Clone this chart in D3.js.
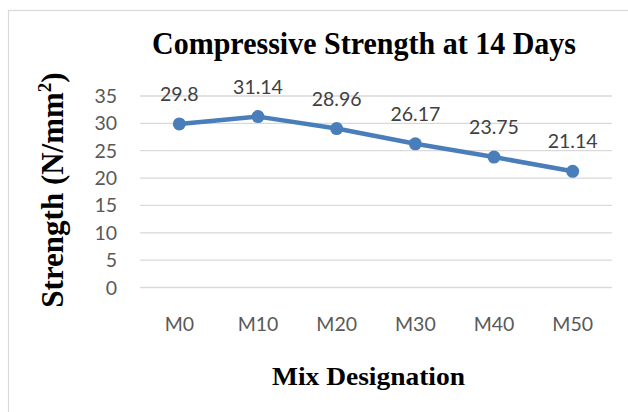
<!DOCTYPE html>
<html>
<head>
<meta charset="utf-8">
<script src="https://cdn.jsdelivr.net/npm/d3@7"></script>
<style>
  html, body { margin: 0; padding: 0; background: #fff; }
  svg { display: block; }
</style>
</head>
<body>
<svg id="chart" width="628" height="412"></svg>
<script>
// Compressive strength at 14 days for each mix
const mixes = ["M0", "M10", "M20", "M30", "M40", "M50"];
const strength = [29.8, 31.14, 28.96, 26.17, 23.75, 21.14];
const yTicks = [0, 5, 10, 15, 20, 25, 30, 35];

const svg = d3.select("#chart");
const W = 628, H = 412;
const plot = { left: 140, right: 612, top: 95.5, bottom: 287 };
const sans = "Lato, 'Open Sans', sans-serif";
const serif = "'Liberation Serif', 'Times New Roman', serif";

// Chart frame
svg.append("rect")
  .attr("x", 8.5).attr("y", 10.5)
  .attr("width", W + 20).attr("height", H + 20)
  .attr("fill", "#fff").attr("stroke", "#d9d9d9").attr("stroke-width", 1.2);

const x = d3.scaleBand().domain(mixes).range([plot.left, plot.right]);
const y = d3.scaleLinear().domain([0, 35]).range([plot.bottom, plot.top]);

// Horizontal gridlines + y tick labels
const yAxis = d3.axisLeft(y).tickValues(yTicks).tickSize(-(plot.right - plot.left)).tickPadding(23);
const gy = svg.append("g").attr("transform", `translate(${plot.left},0)`).call(yAxis);
gy.select(".domain").remove();
gy.selectAll(".tick line").attr("stroke", "#d9d9d9").attr("stroke-width", 1.3);
gy.selectAll(".tick text")
  .attr("fill", "#595959")
  .attr("dy", "0.36em")
  .style("font-family", sans)
  .style("font-size", "19.5px");

// Category labels
const xAxis = d3.axisBottom(x).tickSize(0);
const gx = svg.append("g").attr("transform", `translate(0,${plot.bottom})`).call(xAxis);
gx.select(".domain").remove();
gx.selectAll(".tick text")
  .attr("y", 43.7).attr("dy", null)
  .attr("fill", "#595959")
  .style("font-family", sans)
  .style("font-size", "19.5px");

// Series line
const cx = d => x(d.m) + x.bandwidth() / 2;
const pts = mixes.map((m, i) => ({ m, v: strength[i] }));
svg.append("path")
  .datum(pts)
  .attr("fill", "none")
  .attr("stroke", "#4a7ebb")
  .attr("stroke-width", 4.5)
  .attr("stroke-linejoin", "round")
  .attr("d", d3.line().x(cx).y(d => y(d.v)));

svg.selectAll("circle.pt")
  .data(pts).enter().append("circle")
  .attr("class", "pt")
  .attr("cx", cx).attr("cy", d => y(d.v))
  .attr("r", 6.5)
  .attr("fill", "#4a7ebb");

// Value labels above points
svg.selectAll("text.val")
  .data(pts).enter().append("text")
  .attr("class", "val")
  .attr("x", cx).attr("y", d => y(d.v) - 23)
  .attr("text-anchor", "middle")
  .attr("fill", "#404040")
  .style("font-family", sans)
  .style("font-size", "19.5px")
  .text(d => d.v);

// Titles
svg.append("text")
  .attr("x", 364).attr("y", 53.5)
  .attr("text-anchor", "middle")
  .attr("textLength", 424).attr("lengthAdjust", "spacingAndGlyphs")
  .style("font-family", serif)
  .style("font-weight", "bold")
  .style("font-size", "31px")
  .attr("fill", "#000")
  .text("Compressive Strength at 14 Days");

svg.append("text")
  .attr("x", 368.5).attr("y", 385)
  .attr("text-anchor", "middle")
  .attr("textLength", 193).attr("lengthAdjust", "spacingAndGlyphs")
  .style("font-family", serif)
  .style("font-weight", "bold")
  .style("font-size", "26px")
  .attr("fill", "#000")
  .text("Mix Designation");

const yl = svg.append("text")
  .attr("transform", "translate(63,190) rotate(-90)")
  .attr("text-anchor", "middle")
  .style("font-family", serif)
  .style("font-weight", "bold")
  .style("font-size", "31px")
  .attr("fill", "#000");
yl.append("tspan").text("Strength (N/mm");
yl.append("tspan").attr("dy", -12).style("font-size", "19px").text("2");
yl.append("tspan").attr("dy", 12).text(")");
</script>
</body>
</html>
